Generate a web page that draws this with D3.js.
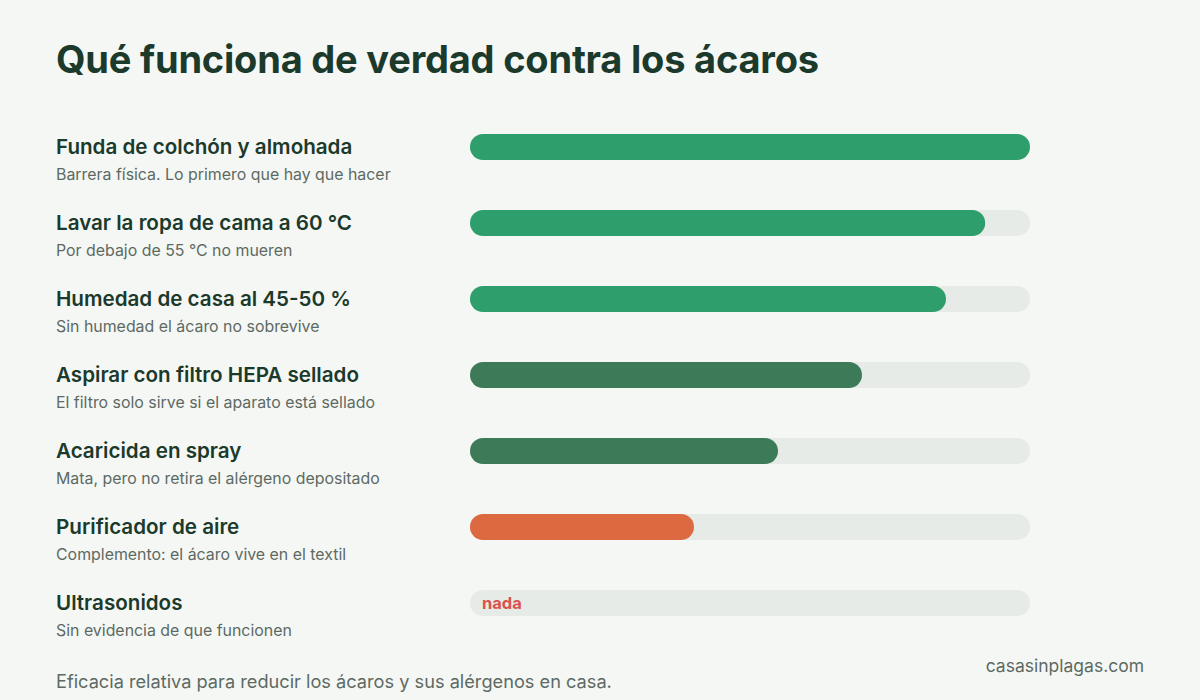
<!DOCTYPE html>
<html>
<head>
<meta charset="utf-8">
<script src="https://cdn.jsdelivr.net/npm/d3@7"></script>
<style>
  html, body { margin: 0; padding: 0; background: #f5f7f5; }
  svg { display: block; }
</style>
</head>
<body>
<svg id="chart" width="1200" height="700"></svg>
<script>
const titleText = "Qué funciona de verdad contra los ácaros";
const categories = [
  "Funda de colchón y almohada",
  "Lavar la ropa de cama a 60 °C",
  "Humedad de casa al 45-50 %",
  "Aspirar con filtro HEPA sellado",
  "Acaricida en spray",
  "Purificador de aire",
  "Ultrasonidos"
];
const notes = [
  "Barrera física. Lo primero que hay que hacer",
  "Por debajo de 55 °C no mueren",
  "Sin humedad el ácaro no sobrevive",
  "El filtro solo sirve si el aparato está sellado",
  "Mata, pero no retira el alérgeno depositado",
  "Complemento: el ácaro vive en el textil",
  "Sin evidencia de que funcionen"
];
const values = [100, 92, 85, 70, 55, 40, 0];
const tiers = ["alta", "alta", "alta", "media", "media", "baja", "nula"];
const zeroLabel = "nada";
const footnote = "Eficacia relativa para reducir los ácaros y sus alérgenos en casa.";
const source = "casasinplagas.com";

const tierColor = d3.scaleOrdinal()
  .domain(["alta", "media", "baja", "nula"])
  .range(["#2e9e6c", "#3d7a58", "#dc6940", "#d9534f"]);

const svg = d3.select("#chart");
const W = 1200, H = 700;
svg.append("rect").attr("width", W).attr("height", H).attr("fill", "#f5f7f5");

const font = "Inter, 'Noto Sans', sans-serif";

svg.append("text")
  .attr("x", 56).attr("y", 73)
  .attr("font-family", font).attr("font-weight", 700)
  .attr("font-size", 38).attr("fill", "#1b3a2b")
  .attr("letter-spacing", -0.2)
  .text(titleText);

const x = d3.scaleLinear().domain([0, 100]).range([470, 1030]);
const y = d3.scaleBand().domain(categories).range([134, 134 + 76 * categories.length]).paddingInner(0).paddingOuter(0);
const barH = 26;

const rows = svg.append("g").selectAll("g")
  .data(categories.map((c, i) => ({ c, note: notes[i], v: values[i], tier: tiers[i] })))
  .join("g")
  .attr("transform", d => `translate(0,${y(d.c)})`);

rows.append("text")
  .attr("x", 56).attr("y", 20)
  .attr("font-family", font).attr("font-weight", 600)
  .attr("font-size", 20.6).attr("fill", "#1b3a2b")
  .text(d => d.c);

rows.append("text")
  .attr("x", 56).attr("y", 46)
  .attr("font-family", font).attr("font-weight", 400)
  .attr("font-size", 15.9).attr("fill", "#5d6a63")
  .text(d => d.note);

rows.append("rect")
  .attr("x", x(0)).attr("y", 0)
  .attr("width", x(100) - x(0)).attr("height", barH)
  .attr("rx", barH / 2).attr("fill", "#e7ebe8");

rows.filter(d => d.v > 0).append("rect")
  .attr("x", x(0)).attr("y", 0)
  .attr("width", d => x(d.v) - x(0)).attr("height", barH)
  .attr("rx", barH / 2).attr("fill", d => tierColor(d.tier));

rows.filter(d => d.v === 0).append("text")
  .attr("x", x(0) + 12).attr("y", 19)
  .attr("font-family", font).attr("font-weight", 700)
  .attr("font-size", 16.5).attr("fill", d => tierColor(d.tier))
  .text(zeroLabel);

svg.append("text")
  .attr("x", 56).attr("y", 688)
  .attr("font-family", font).attr("font-size", 18.2).attr("fill", "#5d6a63")
  .text(footnote);

svg.append("text")
  .attr("x", 1144).attr("y", 672).attr("text-anchor", "end")
  .attr("font-family", font).attr("font-size", 17.5).attr("fill", "#5d6a63")
  .text(source);
</script>
</body>
</html>
